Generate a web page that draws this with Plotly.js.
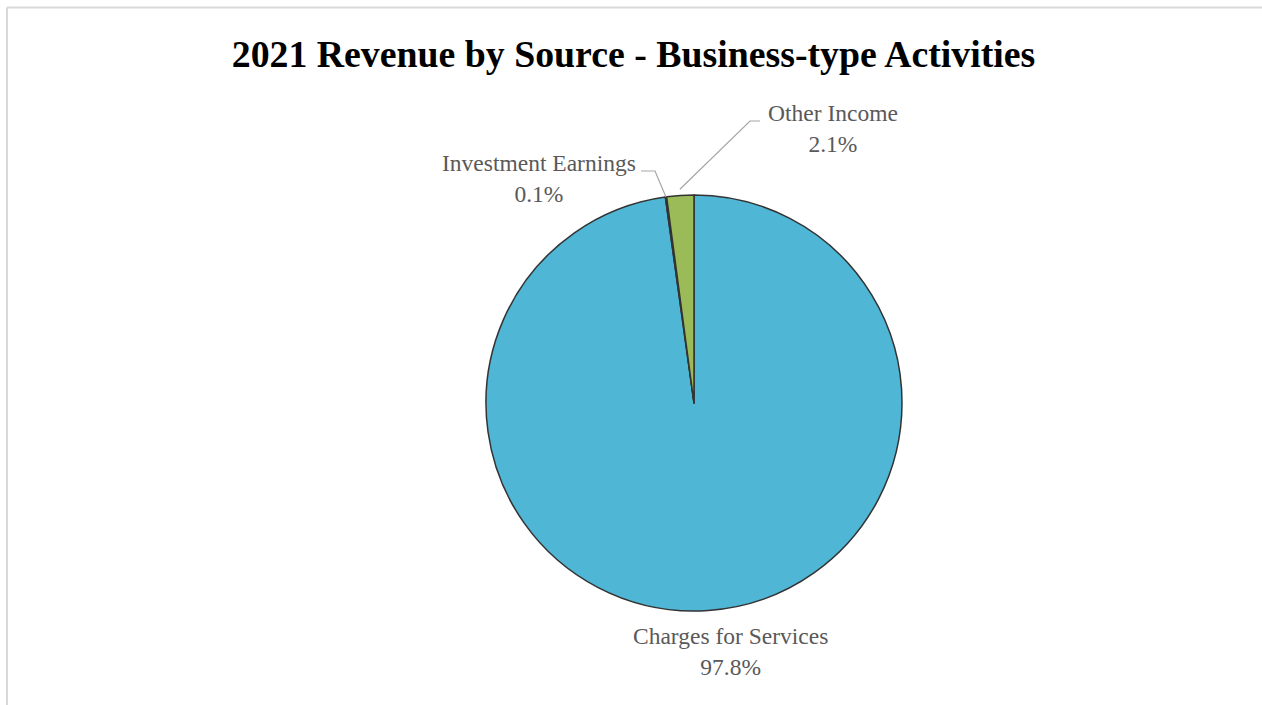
<!DOCTYPE html>
<html>
<head>
<meta charset="utf-8">
<script src="https://cdn.plot.ly/plotly-3.0.1.min.js"></script>
<style>html,body{margin:0;padding:0;background:#fff;}#chart{width:1262px;height:705px;}</style>
</head>
<body>
<div id="chart"></div>
<script>
// ---- data ----
const categories = ["Charges for Services", "Investment Earnings", "Other Income"];
const shares = [97.8, 0.1, 2.1];
const sliceColors = ["#4FB6D5", "#3F3F3F", "#9BBB59"];
const chartTitle = "2021 Revenue by Source - Business-type Activities";

// ---- geometry ----
const W = 1262, H = 705;
const M = {l: 0, r: 0, t: 195, b: 94};
const plotH = H - M.t - M.b;           // pie diameter
const R = plotH / 2;
const cxPix = 694;
const cxPaper = cxPix / W;
const domX = [cxPaper - 0.2, cxPaper + 0.2];
const px2x = p => p / W;
const py2y = p => (H - M.b - p) / plotH;
const cyPix = M.t + R;

// slice mid-angles (clockwise from 12 o'clock)
const total = shares.reduce((a, b) => a + b, 0);
let cum = 0;
const mids = shares.map(v => { const m = (cum + v / 2) / total * 2 * Math.PI; cum += v; return m; });
const edgePt = (i, k) => [cxPix + R * k * Math.sin(mids[i]), cyPix - R * k * Math.cos(mids[i])];

const labelFont = {family: "Liberation Serif, Times New Roman, serif", size: 23.5, color: "#595959"};
const fmt = v => v.toFixed(1) + "%";

const annotations = [
  {x: px2x(730), y: py2y(651), text: categories[0] + "<br>" + fmt(shares[0])},
  {x: px2x(539), y: py2y(179), text: categories[1] + "<br>" + fmt(shares[1])},
  {x: px2x(833), y: py2y(128), text: categories[2] + "<br>" + fmt(shares[2])}
].map(a => Object.assign(a, {xref: "paper", yref: "paper", showarrow: false,
  xanchor: "center", yanchor: "middle", font: labelFont, align: "center"}));

// leader lines
const tipInv = edgePt(1, 1.0);
const tipOth = edgePt(2, 1.03);
const pathOf = pts => pts.map((p, i) => (i ? "L" : "M") + px2x(p[0]) + "," + py2y(p[1])).join(" ");
const shapes = [
  {type: "path", xref: "paper", yref: "paper", path: pathOf([[641, 171], [655, 171], tipInv]),
   line: {color: "#A6A6A6", width: 1.2}},
  {type: "path", xref: "paper", yref: "paper", path: pathOf([[760, 121], [750, 121], tipOth]),
   line: {color: "#A6A6A6", width: 1.2}},
  // outer border (top and left)
  {type: "line", xref: "paper", yref: "paper", x0: px2x(7), x1: px2x(W + 5), y0: py2y(7.5), y1: py2y(7.5),
   line: {color: "#D9D9D9", width: 2}},
  {type: "line", xref: "paper", yref: "paper", x0: px2x(7), x1: px2x(7), y0: py2y(7.5), y1: py2y(H + 5),
   line: {color: "#D9D9D9", width: 2}}
];

const trace = {
  type: "pie",
  labels: categories,
  values: shares,
  sort: false,
  direction: "clockwise",
  rotation: 0,
  textinfo: "none",
  hoverinfo: "label+percent",
  marker: {colors: sliceColors, line: {color: "#333333", width: 1.5}},
  domain: {x: domX, y: [0, 1]},
  showlegend: false
};

const layout = {
  width: W, height: H,
  margin: M,
  paper_bgcolor: "#ffffff",
  plot_bgcolor: "#ffffff",
  title: {text: "<b>" + chartTitle + "</b>", xref: "container", yref: "container",
    x: 0.502, y: 1 - 54 / H, xanchor: "center", yanchor: "middle",
    font: {family: "Liberation Serif, Times New Roman, serif", size: 37.8, color: "#000000"}},
  annotations: annotations,
  shapes: shapes
};

Plotly.newPlot("chart", [trace], layout, {displayModeBar: false, staticPlot: true});
</script>
</body>
</html>
